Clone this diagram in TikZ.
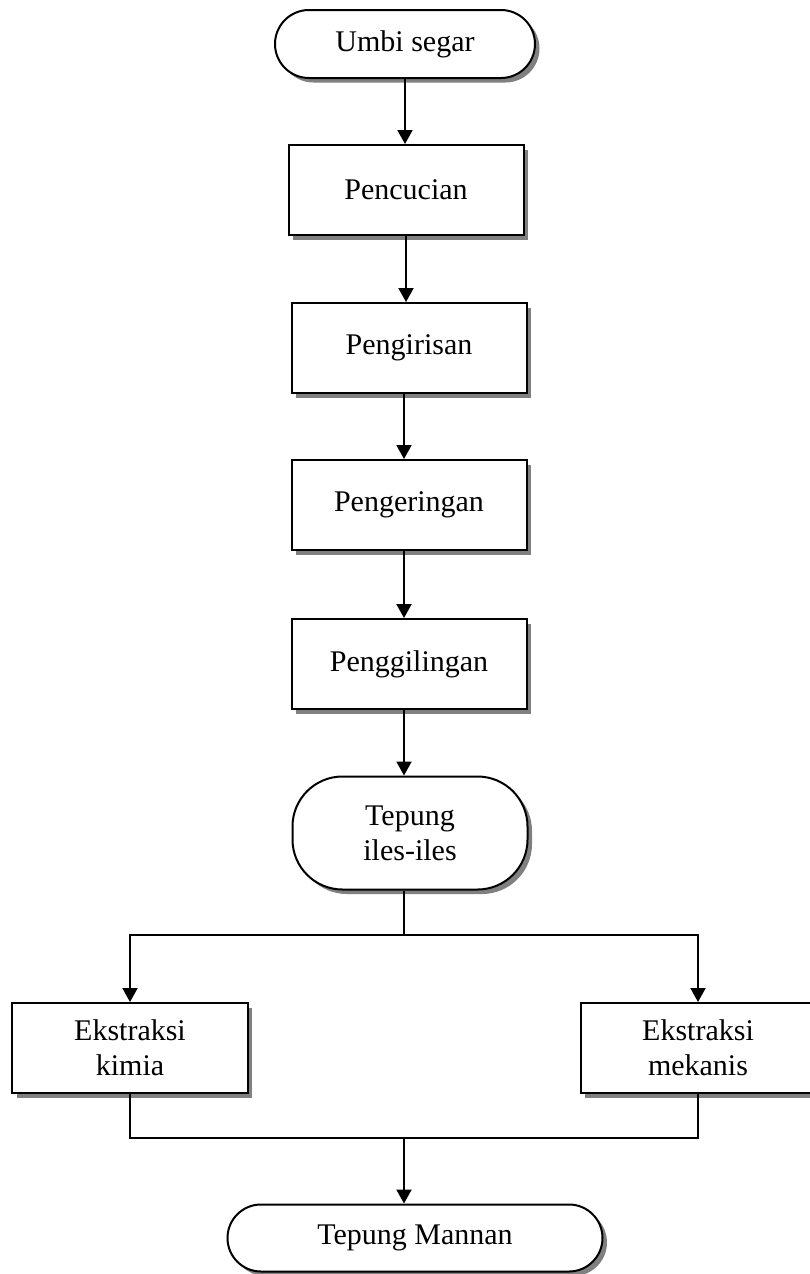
\documentclass[tikz,border=0pt]{standalone}
\usepackage{fontspec}
\setmainfont{Liberation Serif}
\usepackage{xcolor}
\usepackage{tikz}
\usetikzlibrary{calc,arrows.meta,shadows}
\definecolor{ink}{HTML}{000000}
\definecolor{shade}{HTML}{808080}
\definecolor{paper}{HTML}{FFFFFF}
\tikzset{
  box/.style={draw=ink, fill=paper, line width=0.8pt, inner sep=0pt, align=center,
    font=\fontsize{12}{14}\selectfont,
    drop shadow={shadow xshift=1.8pt, shadow yshift=-1.8pt, fill=shade, opacity=1}},
  proc/.style={box, minimum width=94pt, minimum height=36pt},
  term/.style={box, minimum width=104pt, minimum height=27.2pt, rounded corners=13.6pt},
  flow/.style={draw=ink, line width=0.8pt},
  arr/.style={flow, -{Triangle[width=6pt,length=5.6pt]}},
}
\begin{document}
\begin{tikzpicture}[x=0.4pt,y=-0.4pt]
  \useasboundingbox (0,0) rectangle (810,1274);
  % main line
  \node[term] (umbi) at (405,44) {Umbi segar};
  \node[proc] (cuci) at (406,190) {Pencucian};
  \node[proc] (iris) at (409,348) {Pengirisan};
  \node[proc] (kering) at (409,505) {Pengeringan};
  \node[proc] (giling) at (409,664) {Penggilingan};
  \node[term, minimum width=94pt, minimum height=45.2pt, rounded corners=20pt] (tepung) at (410,833) {Tepung\\iles-iles};
  % two ways of extraction
  \node[proc] (kimia) at (130,1048) {Ekstraksi\\kimia};
  \node[proc] (mekanis) at (698,1048) {Ekstraksi\\mekanis};
  \node[term, minimum width=150pt, minimum height=26.8pt, rounded corners=13.4pt] (mannan) at (415,1238) {Tepung Mannan};
  \coordinate (split) at (404,935);
  \coordinate (join) at (404,1138);
  \draw[arr] (umbi.south) -- (umbi.south |- cuci.north);
  \draw[arr] (cuci.south) -- (cuci.south |- iris.north);
  \draw[arr] ($(iris.south)+(-5,0)$) -- ($(iris.south |- kering.north)+(-5,0)$);
  \draw[arr] ($(kering.south)+(-5,0)$) -- ($(kering.south |- giling.north)+(-5,0)$);
  \draw[arr] ($(giling.south)+(-5,0)$) -- ($(giling.south |- tepung.north)+(-5,0)$);
  \draw[flow] (split |- tepung.south) -- (split);
  \draw[arr] (split) -| (kimia.north);
  \draw[arr] (split) -| (mekanis.north);
  \draw[flow] (kimia.south) |- (join) -| (mekanis.south);
  \draw[arr] (join) -- (join |- mannan.north);
\end{tikzpicture}
\end{document}
